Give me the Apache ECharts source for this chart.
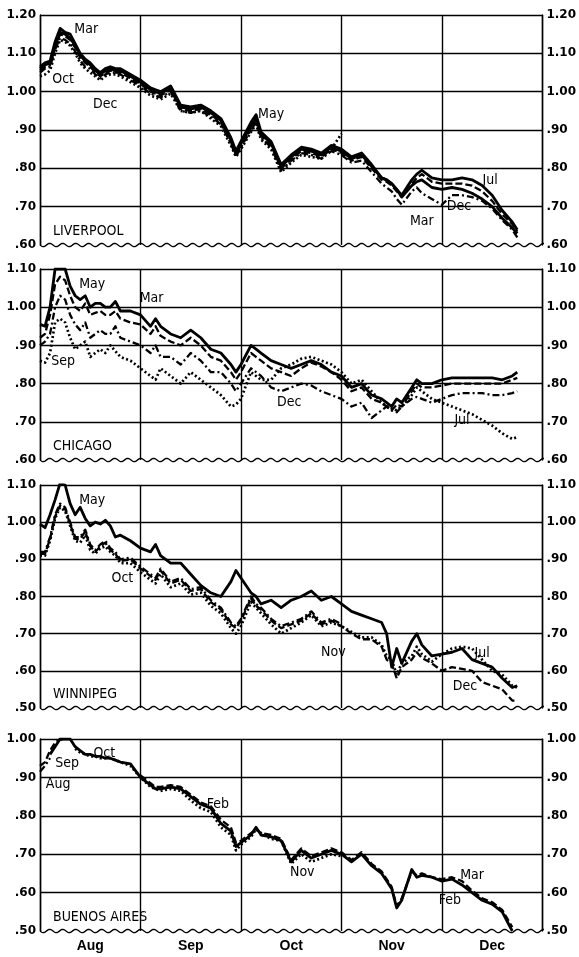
<!DOCTYPE html>
<html>
<head>
<meta charset="utf-8">
<script src="https://cdn.jsdelivr.net/npm/echarts@6/dist/echarts.min.js"></script>
<style>
  html, body { margin: 0; padding: 0; background: #fff; }
  #chart { width: 579px; height: 957px; }
</style>
</head>
<body>
<div id="chart"></div>
<script>
// x position in months from 1 Aug (0 = Aug 1, 5 = end of Dec)
var xPos = [0, 0.05, 0.1, 0.15, 0.2, 0.25, 0.3, 0.35, 0.4, 0.45,
            0.5, 0.55, 0.6, 0.65, 0.7, 0.75, 0.8, 0.9, 1.0, 1.1,
            1.15, 1.2, 1.3, 1.4, 1.5, 1.6, 1.7, 1.8, 1.9, 1.95,
            2.0, 2.1, 2.15, 2.2, 2.3, 2.4, 2.5, 2.6, 2.7, 2.8,
            2.9, 3.0, 3.1, 3.2, 3.3, 3.4, 3.45, 3.5, 3.55, 3.6,
            3.7, 3.75, 3.8, 3.9, 4.0, 4.1, 4.2, 4.3, 4.4, 4.5,
            4.6, 4.7, 4.75];

var months = ['Aug', 'Sep', 'Oct', 'Nov', 'Dec'];
var panelNames = ['LIVERPOOL', 'CHICAGO', 'WINNIPEG', 'BUENOS AIRES'];
var yMin = [0.60, 0.60, 0.50, 0.50];
var yMax = [1.20, 1.10, 1.10, 1.00];

// Liverpool
var livMar = [1.065, 1.075, 1.08, 1.13, 1.165, 1.155, 1.15, 1.125, 1.10, 1.085,
              1.075, 1.06, 1.05, 1.06, 1.065, 1.06, 1.06, 1.045, 1.03, 1.01,
              1.005, 1.00, 1.015, 0.965, 0.96, 0.965, 0.95, 0.93, 0.88, 0.845,
              0.87, 0.92, 0.94, 0.895, 0.87, 0.81, 0.835, 0.855, 0.85, 0.84,
              0.86, 0.85, 0.83, 0.84, 0.81, 0.775, 0.77, 0.76, 0.745, 0.725,
              0.755, 0.765, 0.77, 0.75, 0.745, 0.75, 0.745, 0.735, 0.72, 0.70,
              0.67, 0.645, 0.63];
var livJul = [1.06, 1.07, 1.075, 1.12, 1.155, 1.15, 1.14, 1.12, 1.095, 1.08,
              1.07, 1.055, 1.045, 1.055, 1.06, 1.055, 1.055, 1.04, 1.025, 1.005,
              1.00, 0.995, 1.01, 0.96, 0.955, 0.96, 0.945, 0.925, 0.875, 0.84,
              0.865, 0.91, 0.93, 0.89, 0.865, 0.805, 0.83, 0.85, 0.845, 0.835,
              0.855, 0.845, 0.825, 0.835, 0.805, 0.775, 0.77, 0.76, 0.745, 0.73,
              0.77, 0.785, 0.795, 0.775, 0.77, 0.77, 0.775, 0.77, 0.755, 0.73,
              0.69, 0.66, 0.64];
var livMay = [1.055, 1.065, 1.07, 1.115, 1.15, 1.145, 1.135, 1.115, 1.09, 1.075,
              1.065, 1.05, 1.04, 1.05, 1.055, 1.05, 1.05, 1.035, 1.02, 1.0,
              0.995, 0.99, 1.005, 0.955, 0.95, 0.955, 0.94, 0.92, 0.87, 0.835,
              0.86, 0.905, 0.925, 0.885, 0.86, 0.80, 0.825, 0.845, 0.84, 0.83,
              0.85, 0.84, 0.82, 0.83, 0.80, 0.77, 0.765, 0.755, 0.74, 0.725,
              0.76, 0.775, 0.785, 0.765, 0.76, 0.76, 0.76, 0.755, 0.74, 0.715,
              0.68, 0.655, 0.635];
var livDec = [1.05, 1.06, 1.065, 1.11, 1.14, 1.135, 1.125, 1.105, 1.08, 1.065,
              1.06, 1.045, 1.035, 1.045, 1.05, 1.05, 1.045, 1.03, 1.015, 0.995,
              0.99, 0.985, 1.0, 0.95, 0.945, 0.95, 0.935, 0.915, 0.865, 0.83,
              0.855, 0.90, 0.92, 0.88, 0.855, 0.795, 0.82, 0.84, 0.835, 0.825,
              0.845, 0.835, 0.815, 0.82, 0.79, 0.76, 0.75, 0.74, 0.72, 0.705,
              0.74, 0.75, 0.735, 0.72, 0.705, 0.73, 0.73, 0.725, 0.715, 0.695,
              0.665, 0.64, 0.62];
var livOct = [1.04, 1.045, 1.055, 1.10, 1.135, 1.13, 1.12, 1.10, 1.075, 1.06,
              1.05, 1.04, 1.03, 1.04, 1.045, 1.045, 1.04, 1.025, 1.01, 0.99,
              0.985, 0.98, 0.995, 0.95, 0.945, 0.95, 0.93, 0.91, 0.86, 0.83,
              0.85, 0.895, 0.915, 0.875, 0.85, 0.79, 0.815, 0.835, 0.83, 0.825,
              0.85, 0.89, null, null, null, null, null, null, null, null,
              null, null, null, null, null, null, null, null, null, null,
              null, null, null];

// Chicago
var chiMay = [0.955, 0.95, 1.00, 1.10, 1.10, 1.10, 1.055, 1.03, 1.02, 1.03,
              1.00, 1.01, 1.01, 1.00, 1.00, 1.015, 0.99, 0.99, 0.98, 0.95,
              0.97, 0.95, 0.93, 0.92, 0.94, 0.92, 0.89, 0.88, 0.85, 0.83,
              0.85, 0.90, 0.89, 0.88, 0.86, 0.85, 0.84, 0.85, 0.86, 0.85,
              0.83, 0.82, 0.79, 0.80, 0.77, 0.76, 0.75, 0.74, 0.76, 0.75,
              0.79, 0.81, 0.80, 0.80, 0.81, 0.815, 0.815, 0.815, 0.815, 0.815,
              0.81, 0.82, 0.83];
var chiMar = [0.92, 0.93, 0.98, 1.06, 1.08, 1.07, 1.03, 1.00, 0.99, 1.01,
              0.98, 0.985, 0.99, 0.98, 0.98, 0.99, 0.97, 0.96, 0.955, 0.93,
              0.95, 0.925, 0.91, 0.90, 0.92, 0.90, 0.87, 0.86, 0.83, 0.81,
              0.83, 0.88, 0.87, 0.86, 0.84, 0.83, 0.82, 0.84, 0.855, 0.845,
              0.83, 0.81, 0.78, 0.79, 0.76, 0.75, 0.74, 0.73, 0.745, 0.74,
              0.78, 0.80, 0.79, 0.79, 0.795, 0.80, 0.80, 0.80, 0.80, 0.80,
              0.80, 0.81, 0.815];
var chiDec = [0.90, 0.91, 0.93, 1.00, 1.03, 1.02, 0.98, 0.955, 0.94, 0.96,
              0.92, 0.93, 0.94, 0.93, 0.93, 0.95, 0.92, 0.91, 0.90, 0.88,
              0.90, 0.87, 0.87, 0.85, 0.88, 0.86, 0.83, 0.83, 0.80, 0.78,
              0.80, 0.84, 0.83, 0.82, 0.79, 0.78, 0.79, 0.80, 0.795, 0.78,
              0.77, 0.76, 0.74, 0.75, 0.71, 0.73, 0.74, 0.73, 0.725, 0.74,
              0.76, 0.765, 0.76, 0.75, 0.76, 0.77, 0.775, 0.775, 0.775, 0.77,
              0.77, 0.775, 0.78];
var chiJul = [0.86, 0.855, 0.88, 0.96, 0.97, 0.96, 0.92, 0.89, 0.90, 0.91,
              0.87, 0.88, 0.89, 0.88, 0.90, 0.885, 0.87, 0.86, 0.84, 0.82,
              0.81, 0.84, 0.82, 0.80, 0.83, 0.81, 0.79, 0.77, 0.74, 0.745,
              0.76, 0.83, 0.82, 0.81, 0.81, 0.84, 0.85, 0.865, 0.87, 0.86,
              0.85, 0.83, 0.80, 0.81, 0.78, 0.75, 0.74, 0.735, 0.73, 0.74,
              0.77, 0.79, 0.78, 0.76, 0.75, 0.74, 0.73, 0.72, 0.705, 0.69,
              0.67, 0.655, 0.66];

// Winnipeg
var winMay = [0.995, 0.985, 1.02, 1.06, 1.105, 1.10, 1.05, 1.02, 1.04, 1.01,
              0.99, 1.00, 0.995, 1.005, 0.99, 0.96, 0.965, 0.95, 0.93, 0.92,
              0.94, 0.91, 0.89, 0.89, 0.86, 0.83, 0.81, 0.80, 0.84, 0.87,
              0.85, 0.81, 0.80, 0.78, 0.79, 0.77, 0.79, 0.80, 0.815, 0.79,
              0.80, 0.78, 0.76, 0.75, 0.74, 0.73, 0.70, 0.61, 0.66, 0.62,
              0.68, 0.70, 0.67, 0.64, 0.645, 0.65, 0.66, 0.63, 0.62, 0.61,
              0.58, 0.555, 0.56];
var winOct = [0.92, 0.92, 0.96, 1.02, 1.05, 1.04, 1.00, 0.96, 0.96, 0.98,
              0.94, 0.925, 0.94, 0.95, 0.93, 0.92, 0.90, 0.905, 0.88, 0.86,
              0.85, 0.875, 0.84, 0.85, 0.82, 0.825, 0.79, 0.77, 0.73, 0.72,
              0.74, 0.80, 0.78, 0.77, 0.74, 0.72, 0.73, 0.74, 0.76, 0.73,
              0.74, 0.725, null, null, null, null, null, null, null, null,
              null, null, null, null, null, null, null, null, null, null,
              null, null, null];
var winDec = [0.915, 0.915, 0.955, 1.015, 1.045, 1.035, 0.995, 0.955, 0.955, 0.975,
              0.935, 0.92, 0.935, 0.945, 0.925, 0.915, 0.895, 0.90, 0.875, 0.855,
              0.845, 0.87, 0.835, 0.845, 0.815, 0.82, 0.785, 0.765, 0.725, 0.715,
              0.735, 0.795, 0.775, 0.765, 0.735, 0.715, 0.725, 0.735, 0.755, 0.725,
              0.735, 0.72, 0.70, 0.685, 0.685, 0.665, 0.63, 0.62, 0.58, 0.61,
              0.63, 0.65, 0.635, 0.62, 0.60, 0.61, 0.605, 0.60, 0.57, 0.56,
              0.55, 0.52, 0.52];
var winJul = [0.91, 0.91, 0.95, 1.01, 1.04, 1.03, 0.99, 0.95, 0.945, 0.965,
              0.925, 0.915, 0.93, 0.935, 0.92, 0.91, 0.89, 0.89, 0.865, 0.845,
              0.835, 0.86, 0.825, 0.835, 0.805, 0.81, 0.775, 0.755, 0.715, 0.70,
              0.72, 0.785, 0.77, 0.755, 0.725, 0.70, 0.715, 0.73, 0.75, 0.72,
              0.73, 0.72, 0.705, 0.69, 0.69, 0.67, 0.64, 0.63, 0.59, 0.62,
              0.64, 0.665, 0.645, 0.625, 0.645, 0.66, 0.665, 0.66, 0.63, 0.60,
              0.59, 0.56, 0.555];

// Buenos Aires
var baAug = [0.915, 0.93, 0.95, null, null, null, null, null, null, null,
             null, null, null, null, null, null, null, null, null, null,
             null, null, null, null, null, null, null, null, null, null,
             null, null, null, null, null, null, null, null, null, null,
             null, null, null, null, null, null, null, null, null, null,
             null, null, null, null, null, null, null, null, null, null,
             null, null, null];
var baSep = [0.93, 0.94, 0.97, 0.99, 1.00, 0.995, null, null, null, null,
             null, null, null, null, null, null, null, null, null, null,
             null, null, null, null, null, null, null, null, null, null,
             null, null, null, null, null, null, null, null, null, null,
             null, null, null, null, null, null, null, null, null, null,
             null, null, null, null, null, null, null, null, null, null,
             null, null, null];
var baOct = [null, null, null, null, null, null, null, 0.975, 0.965, 0.96,
             0.955, 0.955, 0.95, 0.95, 0.95, 0.945, 0.94, 0.93, 0.90, 0.875,
             0.87, 0.865, 0.87, 0.865, 0.84, 0.82, 0.81, 0.77, 0.75, 0.71,
             0.725, 0.745, 0.765, 0.755, 0.74, 0.735, 0.675, 0.70, 0.68, 0.69,
             0.70, 0.695, null, null, null, null, null, null, null, null,
             null, null, null, null, null, null, null, null, null, null,
             null, null, null];
var baFeb = [null, null, 0.96, 0.98, 1.00, 1.00, 1.00, 0.98, 0.97, 0.96,
             0.96, 0.955, 0.955, 0.95, 0.95, 0.945, 0.94, 0.935, 0.90, 0.88,
             0.87, 0.87, 0.875, 0.87, 0.85, 0.83, 0.82, 0.78, 0.76, 0.72,
             0.73, 0.75, 0.77, 0.75, 0.745, 0.735, 0.68, 0.71, 0.69, 0.70,
             0.71, 0.70, 0.68, 0.70, 0.67, 0.65, 0.63, 0.61, 0.56, 0.58,
             0.66, 0.64, 0.645, 0.64, 0.63, 0.635, 0.62, 0.60, 0.58, 0.57,
             0.55, 0.50, null];
var baMar = [null, null, null, null, null, null, null, null, null, null,
             null, null, null, null, null, null, null, null, 0.905, 0.885,
             0.875, 0.875, 0.88, 0.875, 0.855, 0.835, 0.825, 0.79, 0.77, 0.73,
             0.735, 0.755, 0.765, 0.755, 0.75, 0.74, 0.685, 0.715, 0.695, 0.705,
             0.715, 0.705, 0.685, 0.705, 0.675, 0.655, 0.635, 0.615, 0.565, 0.585,
             0.655, 0.645, 0.65, 0.64, 0.635, 0.64, 0.63, 0.605, 0.585, 0.575,
             0.555, 0.51, null];

// contract labels [text, month position, price]
var livNotes = [['Mar', 0.46, 1.163], ['Oct', 0.23, 1.033], ['Dec', 0.65, 0.968],
                ['May', 2.30, 0.942], ['Jul', 4.48, 0.769], ['Dec', 4.17, 0.70], ['Mar', 3.80, 0.662]];
var chiNotes = [['May', 0.52, 1.061], ['Mar', 1.11, 1.024], ['Sep', 0.23, 0.857],
                ['Dec', 2.48, 0.752], ['Jul', 4.20, 0.705]];
var winNotes = [['May', 0.52, 1.06], ['Oct', 0.82, 0.85], ['Nov', 2.92, 0.65],
                ['Jul', 4.40, 0.648], ['Dec', 4.23, 0.557]];
var baNotes = [['Sep', 0.27, 0.937], ['Aug', 0.18, 0.883], ['Oct', 0.64, 0.963],
               ['Feb', 1.77, 0.83], ['Nov', 2.61, 0.654], ['Mar', 4.30, 0.646], ['Feb', 4.08, 0.58]];

var INK = '#000';
var SOLID = { type: 'solid', width: 2.8 };
var DASHED = { type: [7, 3], width: 2.3 };
var DASHDOT = { type: [7, 3, 2, 3], width: 2.3 };
var DOTTED = { type: [2, 2.5], width: 2.7 };

// layout of the four panels
var panels = [
    { top: 15, height: 230 },
    { top: 269, height: 191 },
    { top: 485, height: 223 },
    { top: 739, height: 192 }
];
var LEFT = 40, WIDTH = 504;

function pairs(vals) {
    var out = [];
    xPos.forEach(function (x, i) {
        if (vals[i] != null) out.push([x, vals[i]]);
    });
    return out;
}

function priceLabel(v) {
    var s = v.toFixed(2);
    return v < 1 ? s.slice(1) : s;
}

var chart = echarts.init(document.getElementById('chart'));

var grid = [], xAxis = [], yAxis = [], series = [], title = [], graphic = [];

panels.forEach(function (p, i) {
    grid.push({ left: LEFT, top: p.top, width: WIDTH, height: p.height });

    xAxis.push({
        type: 'value', gridIndex: i, min: 0, max: 5, interval: 1,
        axisLine: { show: false }, axisTick: { show: false }, axisLabel: { show: false },
        splitLine: { show: true, lineStyle: { color: INK, width: 1.4 } }
    });

    var lab = { color: INK, fontSize: 12, fontWeight: 'bold', fontFamily: 'DejaVu Sans',
                formatter: priceLabel };
    yAxis.push({
        type: 'value', gridIndex: i, min: yMin[i], max: yMax[i], interval: 0.1,
        position: 'left',
        axisLine: { show: true, lineStyle: { color: INK, width: 1.4 } },
        axisTick: { show: false },
        axisLabel: Object.assign({ margin: 4 }, lab),
        splitLine: { show: true, showMinLine: false, lineStyle: { color: INK, width: 1.4 } }
    });
    yAxis.push({
        type: 'value', gridIndex: i, min: yMin[i], max: yMax[i], interval: 0.1,
        position: 'right',
        axisLine: { show: true, lineStyle: { color: INK, width: 1.4 } },
        axisTick: { show: false },
        axisLabel: Object.assign({ margin: 4 }, lab),
        splitLine: { show: false }
    });

    title.push({
        text: panelNames[i], left: LEFT + 8, top: p.top + p.height - 26,
        textStyle: { color: INK, fontSize: 14, fontWeight: 'normal', fontFamily: 'DejaVu Sans Condensed' }
    });

    // wavy break line along the bottom of each panel
    var pts = [];
    var yb = p.top + p.height;
    for (var k = 0; k <= WIDTH; k++) {
        pts.push([LEFT + k, yb + 1.6 * Math.sin(k / 13 * 2 * Math.PI)]);
    }
    graphic.push({ type: 'polyline', shape: { points: pts }, style: { stroke: INK, lineWidth: 1.3, fill: null }, z: 10 });
});

// month names under the last panel
xAxis.push({
    type: 'category', gridIndex: 3, data: months, position: 'bottom', boundaryGap: true,
    axisLine: { show: false }, axisTick: { show: false }, splitLine: { show: false },
    axisLabel: { color: INK, fontSize: 14, fontWeight: 'bold', fontFamily: 'Liberation Sans', margin: 8 }
});

function addLine(panel, name, vals, style) {
    series.push({
        name: name, type: 'line', xAxisIndex: panel, yAxisIndex: panel * 2,
        data: pairs(vals), showSymbol: false, symbol: 'none', silent: true,
        lineStyle: { color: INK, width: style.width, type: style.type, cap: 'butt', join: 'round' }
    });
}

addLine(0, 'Oct', livOct, DOTTED);
addLine(0, 'Dec', livDec, DASHDOT);
addLine(0, 'May', livMay, DASHED);
addLine(0, 'Jul', livJul, SOLID);
addLine(0, 'Mar', livMar, SOLID);

addLine(1, 'Sep-Jul', chiJul, DOTTED);
addLine(1, 'Dec', chiDec, DASHDOT);
addLine(1, 'Mar', chiMar, DASHED);
addLine(1, 'May', chiMay, SOLID);

addLine(2, 'Jul', winJul, DOTTED);
addLine(2, 'Dec', winDec, DASHED);
addLine(2, 'Oct', winOct, DASHDOT);
addLine(2, 'May', winMay, SOLID);

addLine(3, 'Aug', baAug, DASHDOT);
addLine(3, 'Sep', baSep, DASHED);
addLine(3, 'Oct', baOct, DOTTED);
addLine(3, 'Mar', baMar, DASHED);
addLine(3, 'Feb', baFeb, SOLID);

// contract names, written as labels of invisible points
[livNotes, chiNotes, winNotes, baNotes].forEach(function (notes, i) {
    series.push({
        type: 'scatter', xAxisIndex: i, yAxisIndex: i * 2, symbolSize: 1, silent: true,
        itemStyle: { opacity: 0 },
        data: notes.map(function (n) { return [n[1], n[2], n[0]]; }),
        label: {
            show: true, position: 'inside', color: INK, opacity: 1, fontSize: 14,
            fontFamily: 'DejaVu Sans Condensed', textBorderWidth: 0,
            formatter: function (d) { return d.value[2]; }
        },
        z: 5
    });
});

chart.setOption({
    animation: false,
    backgroundColor: '#fff',
    title: title,
    grid: grid,
    xAxis: xAxis,
    yAxis: yAxis,
    series: series,
    graphic: graphic
});
</script>
</body>
</html>
